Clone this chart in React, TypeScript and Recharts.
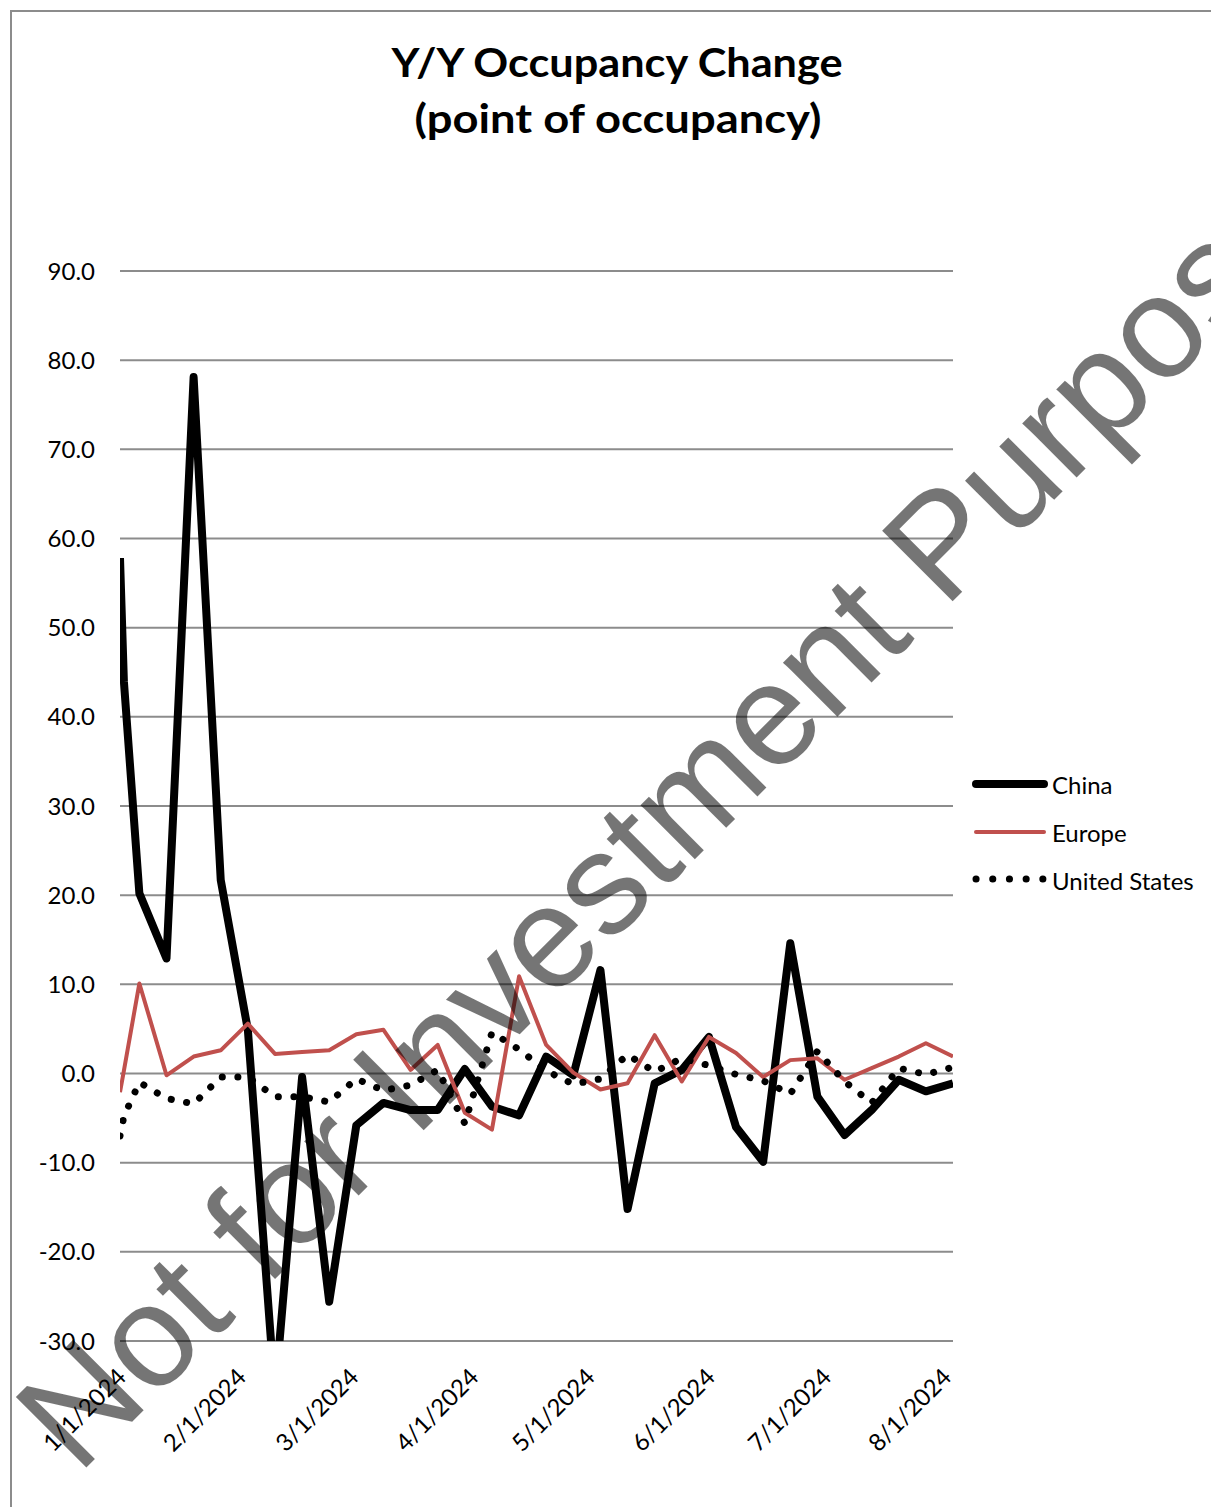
import React from 'react';
import { LineChart, Line, XAxis, YAxis, CartesianGrid } from 'recharts';

// Weekly observation dates (plus the first two days of the year)
const dates = [
  '2023-12-31', '2024-01-01', '2024-01-05', '2024-01-12', '2024-01-19', '2024-01-26',
  '2024-02-02', '2024-02-09', '2024-02-16', '2024-02-23', '2024-03-01', '2024-03-08',
  '2024-03-15', '2024-03-22', '2024-03-29', '2024-04-05', '2024-04-12', '2024-04-19',
  '2024-04-26', '2024-05-03', '2024-05-10', '2024-05-17', '2024-05-24', '2024-05-31',
  '2024-06-07', '2024-06-14', '2024-06-21', '2024-06-28', '2024-07-05', '2024-07-12',
  '2024-07-19', '2024-07-26', '2024-08-02',
];

const china = [
  57.8, 44.0, 20.2, 12.9, 78.1, 21.7, 4.9, -36.0, -0.4, -25.6, -5.8, -3.3,
  -4.1, -4.1, 0.5, -3.7, -4.7, 1.9, -0.2, 11.6, -15.2, -1.1, 0.4, 4.1,
  -6.0, -9.9, 14.6, -2.6, -6.9, -4.1, -0.7, -2.0, -1.1,
];

const europe = [
  -2.1, 0.3, 10.1, -0.2, 1.9, 2.6, 5.6, 2.2, 2.4, 2.6, 4.4, 4.9,
  0.4, 3.2, -4.4, -6.3, 10.9, 3.2, 0.1, -1.8, -1.1, 4.3, -0.9, 4.1,
  2.3, -0.4, 1.5, 1.7, -0.7, 0.6, 1.9, 3.4, 1.9,
];

const unitedStates = [
  -7.0, -4.8, -1.0, -2.8, -3.4, -0.4, -0.4, -2.6, -2.6, -3.2, -0.6, -1.9,
  -1.3, 0.4, -5.6, 4.6, 2.7, 0.3, -1.2, -0.6, 2.1, 0.2, 1.7, 0.9,
  -0.1, -0.8, -2.3, 2.5, -0.9, -3.3, 0.6, -0.1, 0.7,
];

const yTicks = [-30, -20, -10, 0, 10, 20, 30, 40, 50, 60, 70, 80, 90];
const xTickDates = ['2024-01-01', '2024-02-01', '2024-03-01', '2024-04-01', '2024-05-01', '2024-06-01', '2024-07-01', '2024-08-01'];
const xTickLabels = ['1/1/2024', '2/1/2024', '3/1/2024', '4/1/2024', '5/1/2024', '6/1/2024', '7/1/2024', '8/1/2024'];
const seriesNames = ['China', 'Europe', 'United States'];
const titleLines = ['Y/Y Occupancy Change', '(point of occupancy)'];

const DAY_MS = 86400000;
const ORIGIN = Date.UTC(2024, 0, 1);
const toDay = (s: string) => {
  const [y, m, d] = s.split('-').map(Number);
  return Math.round((Date.UTC(y, m - 1, d) - ORIGIN) / DAY_MS);
};

const data = dates.map((d, i) => ({
  day: toDay(d),
  china: china[i],
  europe: europe[i],
  us: unitedStates[i],
}));
const xTicks = xTickDates.map(toDay);
const xDomain = [toDay(dates[0]), toDay(dates[dates.length - 1])];

const FONT = 'Lato, "Open Sans", sans-serif';
const RED = '#c0504d';

const XTick = (props: any) => {
  const { x, y, payload } = props;
  const idx = xTicks.indexOf(payload.value);
  const label = idx >= 0 ? xTickLabels[idx] : '';
  return (
    <text
      transform={`translate(${x - 3},${y + 31}) rotate(-45)`}
      textAnchor="end"
      dominantBaseline="central"
      fontSize={24}
      fontFamily={FONT}
      fill="#000"
    >
      {label}
    </text>
  );
};

export default function App() {
  return (
    <div
      style={{
        position: 'fixed',
        left: 0,
        top: 0,
        width: 1211,
        height: 1507,
        overflow: 'hidden',
        background: '#fff',
      }}
    >
      <div
        style={{
          position: 'absolute',
          left: 10,
          top: 10,
          width: 1400,
          height: 1700,
          borderTop: '2px solid #8c8c8c',
          borderLeft: '2px solid #8c8c8c',
        }}
      />
      <svg width={1211} height={1507} style={{ position: 'absolute', left: 0, top: 0 }}>
        <text
          x={617}
          y={77}
          textAnchor="middle"
          fontFamily={FONT}
          fontWeight={700}
          fontSize={40}
          textLength={451}
          lengthAdjust="spacingAndGlyphs"
          fill="#000"
        >
          {titleLines[0]}
        </text>
        <text
          x={618}
          y={133}
          textAnchor="middle"
          fontFamily={FONT}
          fontWeight={700}
          fontSize={40}
          textLength={407}
          lengthAdjust="spacingAndGlyphs"
          fill="#000"
        >
          {titleLines[1]}
        </text>
        {/* legend */}
        <line x1={976} x2={1044} y1={784} y2={784} stroke="#000" strokeWidth={8} strokeLinecap="round" />
        <text x={1052} y={784} dominantBaseline="central" fontFamily={FONT} fontSize={24} fill="#000">{seriesNames[0]}</text>
        <line x1={976} x2={1044} y1={832} y2={832} stroke={RED} strokeWidth={4} strokeLinecap="round" />
        <text x={1052} y={832} dominantBaseline="central" fontFamily={FONT} fontSize={24} fill="#000">{seriesNames[1]}</text>
        <line x1={976} x2={1044} y1={879} y2={879} stroke="#000" strokeWidth={7} strokeLinecap="round" strokeDasharray="0.1 16.6" />
        <text x={1052} y={880} dominantBaseline="central" fontFamily={FONT} fontSize={24} fill="#000">{seriesNames[2]}</text>
      </svg>
      <div style={{ position: 'absolute', left: 0, top: 0 }}>
        <LineChart
          width={1211}
          height={1507}
          data={data}
          margin={{ top: 271, right: 258, bottom: 66, left: 20 }}
        >
          <CartesianGrid vertical={false} stroke="#8c8c8c" strokeWidth={2} />
          <XAxis
            dataKey="day"
            type="number"
            domain={xDomain}
            ticks={xTicks}
            allowDataOverflow
            axisLine={false}
            tickLine={false}
            tickSize={0}
            tickMargin={0}
            height={100}
            interval={0}
            tick={<XTick />}
          />
          <YAxis
            type="number"
            domain={[-30, 90]}
            ticks={yTicks}
            allowDataOverflow
            axisLine={false}
            tickLine={false}
            tickSize={0}
            tickMargin={25}
            width={100}
            interval={0}
            tickFormatter={(v: number) => v.toFixed(1)}
            tick={{ fontSize: 24, fontFamily: FONT, fill: '#000' }}
          />
          <Line
            dataKey="china"
            name={seriesNames[0]}
            stroke="#000"
            strokeWidth={8}
            strokeLinejoin="round"
            dot={false}
            activeDot={false}
            isAnimationActive={false}
          />
          <Line
            dataKey="europe"
            name={seriesNames[1]}
            stroke={RED}
            strokeWidth={4}
            strokeLinejoin="round"
            dot={false}
            activeDot={false}
            isAnimationActive={false}
          />
          <Line
            dataKey="us"
            name={seriesNames[2]}
            stroke="#000"
            strokeWidth={7}
            strokeLinecap="round"
            strokeDasharray="0.1 15.5"
            dot={false}
            activeDot={false}
            isAnimationActive={false}
          />
        </LineChart>
      </div>
      <svg width={1211} height={1507} style={{ position: 'absolute', left: 0, top: 0, pointerEvents: 'none' }}>
        <text
          x={78}
          y={1476}
          transform="rotate(-45 78 1476)"
          fontFamily='"Liberation Sans", Arial, sans-serif'
          fontSize={145}
          fill="#000"
          fillOpacity={0.54}
        >
          Not for Investment Purposes
        </text>
      </svg>
    </div>
  );
}
